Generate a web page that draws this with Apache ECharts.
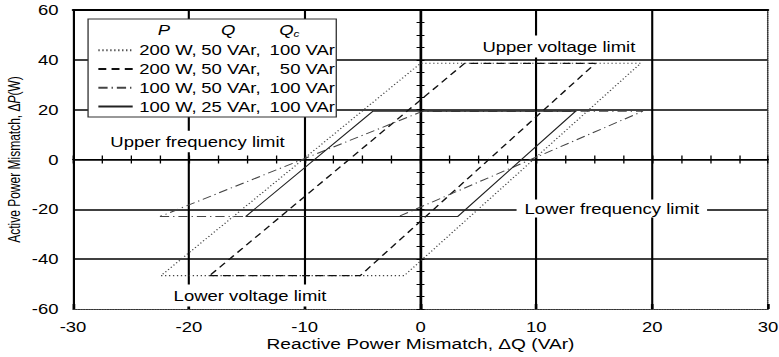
<!DOCTYPE html>
<html>
<head>
<meta charset="utf-8">
<script src="https://cdn.jsdelivr.net/npm/echarts@6/dist/echarts.min.js"></script>
<style>
  html, body { margin: 0; padding: 0; background: #fff; overflow: hidden; }
  /* the figure is laid out narrow and widened horizontally as a whole */
  #chart { position: absolute; left: 0; top: 0; width: 590px; height: 357px;
           transform: scaleX(1.3203); transform-origin: 0 0; }
</style>
</head>
<body>
<div id="chart"></div>
<script>
// Corner points of each hysteresis loop: reactive power Q (VAr) and active power P (W), walked around the loop
const loopNames = ['200 W, 50 VAr, 100 VAr', '200 W, 50 VAr, 50 VAr', '100 W, 50 VAr, 100 VAr', '100 W, 25 VAr, 100 VAr'];
const q200w50v100 = [-22.4, -1.4, 19.0, 0.0, -22.4];
const p200w50v100 = [-46.6, -46.6, 38.6, 38.6, -46.6];
const q200w50v50 = [-18.2, -5.2, 15.1, 3.8, -18.2];
const p200w50v50 = [-46.6, -46.6, 38.6, 38.6, -46.6];
const q100w50v100 = [-22.5, -1.9, 19.2, 0.2, -22.5];
const p100w50v100 = [-22.9, -22.9, 19.4, 19.4, -22.9];
const q100w25v100 = [-15.1, 3.2, 13.4, -4.1, -15.1];
const p100w25v100 = [-22.9, -22.9, 19.4, 19.4, -22.9];

// Axis ticks
const xTicks = [-30, -20, -10, 0, 10, 20, 30];
const yTicks = [-60, -40, -20, 0, 20, 40, 60];
const xMinorStep = 2.5;
const yMinorStep = 5;

// Limit annotations and legend column headers
const limitLabels = ['Upper voltage limit', 'Upper frequency limit', 'Lower frequency limit', 'Lower voltage limit'];
const legendHeads = ['P', 'Q', 'Q', 'c'];

const FONT = '"Liberation Sans", Arial, Helvetica, sans-serif';
const xMin = xTicks[0], xMax = xTicks[xTicks.length - 1];
const yMin = yTicks[0], yMax = yTicks[yTicks.length - 1];

const loops = [
  [q200w50v100, p200w50v100],
  [q200w50v50, p200w50v50],
  [q100w50v100, p100w50v100],
  [q100w25v100, p100w25v100]
];
const loopStyles = [
  { color: '#444', width: 1.1, type: [1, 2] },
  { color: '#111', width: 1.2, type: [6, 4] },
  { color: '#444', width: 1, type: [7, 3, 1, 3] },
  { color: '#222', width: 1, type: 'solid' }
];

const series = loops.map(([q, p], i) => ({
  type: 'line',
  name: loopNames[i],
  data: q.map((v, k) => [v, p[k]]),
  xAxisIndex: 0,
  yAxisIndex: 0,
  symbol: 'none',
  showSymbol: false,
  silent: true,
  z: 3,
  lineStyle: loopStyles[i],
  itemStyle: { color: loopStyles[i].color }
}));

// Thin axes through the origin, carrying crossing minor ticks
function zeroX(inside) {
  return {
    type: 'value', min: xMin, max: xMax, interval: xMinorStep, position: 'bottom',
    axisLine: { show: true, onZero: true, onZeroAxisIndex: 0, lineStyle: { color: '#000', width: 1.2 } },
    axisTick: { show: true, inside: inside, length: 4, lineStyle: { color: '#000', width: 1 } },
    axisLabel: { show: false }, splitLine: { show: false }
  };
}
function zeroY(inside) {
  return {
    type: 'value', min: yMin, max: yMax, interval: yMinorStep, position: 'left',
    axisLine: { show: true, onZero: true, onZeroAxisIndex: 0, lineStyle: { color: '#000', width: 1.2 } },
    axisTick: { show: true, inside: inside, length: 3, lineStyle: { color: '#000', width: 1 } },
    axisLabel: { show: false }, splitLine: { show: false }
  };
}

function limitText(i, x, y, padding) {
  return {
    type: 'text', z: 100, silent: true,
    style: {
      text: limitLabels[i], x: x, y: y, align: 'center', verticalAlign: 'middle',
      fontSize: 14, fontFamily: FONT, fill: '#000',
      backgroundColor: '#fff', padding: padding
    }
  };
}
function headText(i, x, y, size) {
  return {
    type: 'text', z: 100, silent: true,
    style: {
      text: legendHeads[i], x: x, y: y, align: 'center', verticalAlign: 'middle',
      fontSize: size, fontStyle: 'italic', fontFamily: FONT, fill: '#000'
    }
  };
}

const chart = echarts.init(document.getElementById('chart'), null, { renderer: 'svg' });
chart.setOption({
  animation: false,
  backgroundColor: '#fff',
  textStyle: { fontFamily: FONT },
  grid: { left: 55.3, right: 8.3, top: 10, bottom: 48, containLabel: false, outerBoundsMode: 'none' },
  legend: {
    orient: 'vertical', left: 66.7, top: 19,
    padding: [24.3, 1, 3.6, 6.8],
    itemWidth: 26, itemHeight: 14, itemGap: 4.7,
    backgroundColor: '#fff', borderColor: '#333', borderWidth: 1,
    selectedMode: false,
    itemStyle: { opacity: 0 },
    data: loopNames,
    formatter: name => {
      const parts = name.split(', ');
      return '{a|' + parts[0] + ',}{b|' + parts[1] + ',}{c|' + parts[2] + '}';
    },
    textStyle: {
      fontSize: 14, color: '#000', fontFamily: FONT, lineHeight: 14,
      rich: {
        a: { width: 47, fontSize: 14, fontFamily: FONT, color: '#000', align: 'left' },
        b: { width: 50.6, fontSize: 14, fontFamily: FONT, color: '#000', align: 'left' },
        c: { width: 50.6, fontSize: 14, fontFamily: FONT, color: '#000', align: 'right' }
      }
    }
  },
  xAxis: [
    {
      type: 'value', min: xMin, max: xMax, interval: xTicks[1] - xTicks[0], position: 'bottom',
      axisLine: { show: true, onZero: false, lineStyle: { color: '#333', width: 1.2, type: [1, 1] } },
      axisTick: { show: true, inside: true, length: 5, lineStyle: { color: '#000', width: 2 } },
      axisLabel: { show: true, margin: 11, fontSize: 14, color: '#000', fontFamily: FONT },
      splitLine: { show: true, showMinLine: true, showMaxLine: false, lineStyle: { color: '#000', width: 1.6 } },
      name: 'Reactive Power Mismatch, ΔQ (VAr)', nameLocation: 'middle', nameGap: 28,
      nameMoveOverlap: false,
      nameTextStyle: { fontSize: 14.5, color: '#000', fontFamily: FONT }
    },
    zeroX(true),
    zeroX(false),
    {
      type: 'value', min: xMin, max: xMax, position: 'top',
      axisLine: { show: true, onZero: false, lineStyle: { color: '#000', width: 2 } },
      axisTick: { show: false }, axisLabel: { show: false }, splitLine: { show: false }
    }
  ],
  yAxis: [
    {
      type: 'value', min: yMin, max: yMax, interval: yTicks[1] - yTicks[0], position: 'left',
      axisLine: { show: true, onZero: false, lineStyle: { color: '#000', width: 1.5 } },
      axisTick: { show: false },
      axisLabel: { show: true, margin: 11, fontSize: 14, color: '#000', fontFamily: FONT },
      splitLine: { show: true, showMinLine: false, showMaxLine: false, lineStyle: { color: '#000', width: 1.5 } },
      name: '{n|Active Power Mismatch, Δ}{i|P}{n|(W)}', nameLocation: 'middle', nameGap: 38.5,
      nameMoveOverlap: false,
      nameTextStyle: {
        fontSize: 12, color: '#000', fontFamily: FONT,
        rich: {
          n: { fontSize: 12, color: '#000', fontFamily: FONT },
          i: { fontSize: 12, color: '#000', fontFamily: FONT, fontStyle: 'italic' }
        }
      }
    },
    {
      type: 'value', min: yMin, max: yMax, position: 'right',
      axisLine: { show: true, onZero: false, lineStyle: { color: '#333', width: 1.2, type: [1, 1] } },
      axisTick: { show: false }, axisLabel: { show: false }, splitLine: { show: false }
    },
    zeroY(true),
    zeroY(false)
  ],
  graphic: {
    elements: [
      limitText(0, 423.3, 46.5, [4, 2, 4, 2]),
      limitText(1, 149.6, 141.5, [1.5, 3, 6, 3]),
      limitText(2, 463.4, 208.5, [2, 6, 2, 6]),
      limitText(3, 189.4, 295.5, [5.5, 3, 2.5, 3]),
      headText(0, 124.2, 30, 14),
      headText(1, 172.9, 30, 14),
      headText(2, 216.9, 30, 14),
      headText(3, 224.5, 34, 9)
    ]
  },
  series: series
});
</script>
</body>
</html>
